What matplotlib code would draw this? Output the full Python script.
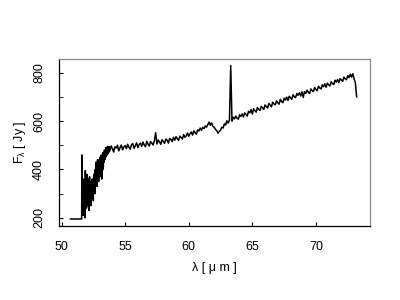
import numpy as np
import matplotlib
matplotlib.use("Agg")
import matplotlib.pyplot as plt

# --- flat part before the detector band starts ---
wl_flat = [50.70, 51.55, 51.58]
flux_flat = [195, 195, 195]

# --- noisy blue edge, sampled every 0.03 um from 51.60 ---
EDGE_START = 51.60
EDGE_STEP = 0.03
flux_edge = [460, 240, 330, 210, 360, 280, 230, 340, 200, 395,
             270, 320, 240, 380, 290, 250, 360, 260, 330, 230,
             370, 300, 270, 350, 250, 330, 280, 360, 290, 340,
             270, 380, 320, 360, 300, 400, 340, 430, 360, 410,
             330, 440, 380, 420, 350, 440, 400, 450, 370, 450,
             410, 460, 360, 450, 420, 470, 400, 460, 430, 480,
             440, 470, 450, 490, 455, 480, 460, 495, 465, 485,
             470, 495, 475]

# --- main continuum, sampled every 0.1 um from 53.8 ---
MAIN_START = 53.8
MAIN_STEP = 0.1
flux_main = [478, 497, 486, 472, 494, 489, 500, 477, 490, 501,   # 53.8-54.7
             481, 493, 499, 486, 504, 492, 484, 502, 507, 487,   # 54.8-55.7
             499, 510, 491, 503, 509, 495, 513, 501, 494, 516,   # 55.8-56.7
             505, 497, 515, 509, 501, 519, 552, 505, 522, 514,   # 56.8-57.7
             504, 523, 516, 508, 526, 521, 509, 528, 524, 515,   # 57.8-58.7
             533, 521, 536, 527, 520, 538, 532, 526, 544, 533,   # 58.8-59.7
             539, 551, 537, 548, 555, 542, 560, 552, 546, 564,   # 59.8-60.7
             559, 571, 562, 574, 569, 580, 575, 586, 596, 583,   # 60.8-61.7
             592, 578, 575, 566, 561, 550, 557, 562, 575, 571,   # 61.8-62.7
             589, 584, 601, 592, 604, 830, 600, 616, 609, 621,   # 62.8-63.7
             612, 608, 626, 619, 630, 617, 634, 628, 621, 641,   # 63.8-64.7
             634, 647, 629, 651, 643, 637, 656, 649, 644, 661,   # 64.8-65.7
             655, 648, 667, 660, 654, 673, 666, 659, 678, 671,   # 65.8-66.7
             667, 684, 676, 670, 690, 681, 676, 695, 687, 699,   # 66.8-67.7
             686, 703, 696, 690, 709, 701, 697, 714, 707, 717,   # 67.8-68.7
             704, 721, 698, 722, 714, 728, 719, 714, 733, 726,   # 68.8-69.7
             722, 739, 731, 726, 744, 737, 733, 750, 742, 754,   # 69.8-70.7
             740, 757, 750, 745, 763, 755, 751, 769, 761, 772,   # 70.8-71.7
             759, 776, 770, 764, 782, 775, 771, 788, 780, 794,   # 71.8-72.7
             782, 796, 774, 758, 700]                            # 72.8-73.2

X_TICKS = [50, 55, 60, 65, 70]
Y_TICKS = [200, 400, 600, 800]
Y_MINOR = [300, 500, 700]

wl_edge = EDGE_START + EDGE_STEP * np.arange(len(flux_edge))
wl_main = MAIN_START + MAIN_STEP * np.arange(len(flux_main))
wl = np.concatenate([wl_flat, wl_edge, wl_main])
flux = np.concatenate([flux_flat, flux_edge, flux_main])

plt.rcParams['font.family'] = ['Liberation Sans', 'DejaVu Sans']

fig = plt.figure(figsize=(4, 3), dpi=100)
ax = fig.add_axes([0.1475, 0.2467, 0.7775, 0.5567])
ax.plot(wl, flux, color='black', lw=1.1)

ax.set_xlim(49.8, 74.25)
ax.set_ylim(166, 857)
ax.set_xticks(X_TICKS)
ax.set_yticks(Y_TICKS)
ax.set_yticks(Y_MINOR, minor=True)
ax.tick_params(direction='in', length=3, labelsize=9)
ax.tick_params(axis='x', pad=11)
ax.tick_params(axis='y', pad=10)
ax.tick_params(axis='y', which='minor', direction='in', length=3)
for lbl in ax.get_yticklabels():
    lbl.set_rotation(90)
    lbl.set_va('center')

for side in ['top', 'right']:
    ax.spines[side].set_color('#8a8a8a')
for side in ['left', 'bottom']:
    ax.spines[side].set_color('black')
for sp in ax.spines.values():
    sp.set_linewidth(0.9)

ax.set_xlabel('λ [ μ m ]', fontsize=9, labelpad=6)
ax.set_ylabel(r'F$_\mathregular{λ}$ [ Jy ]', fontsize=9, labelpad=4)

fig.savefig('out.png', dpi=100)
plt.close()
